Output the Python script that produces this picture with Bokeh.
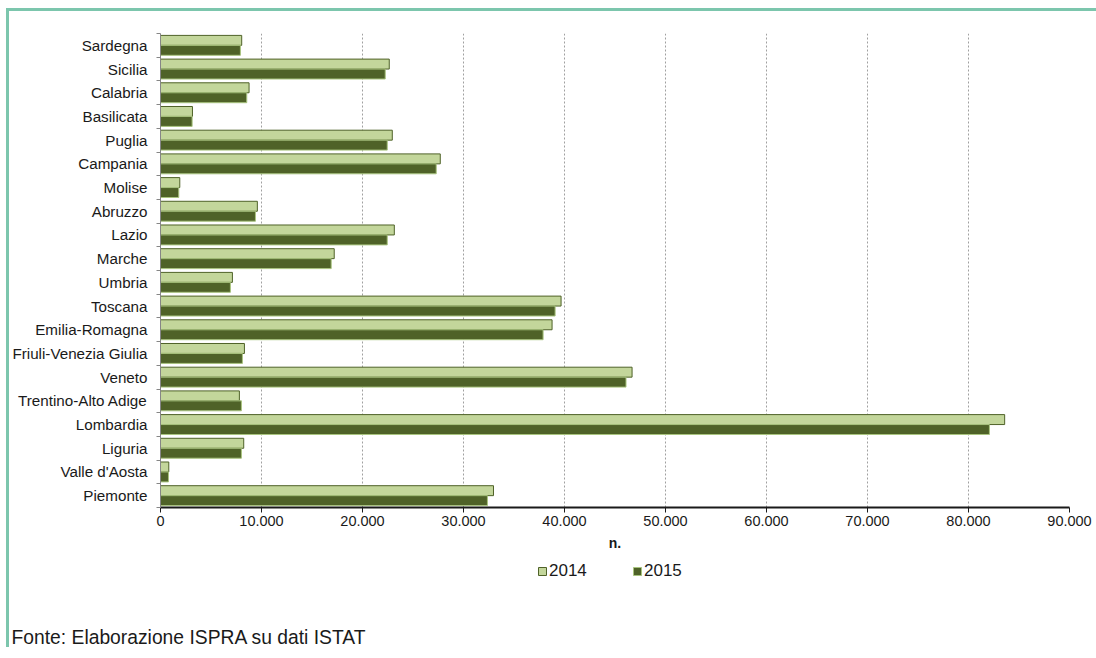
from bokeh.plotting import figure
from bokeh.models import (ColumnDataSource, Range1d, FixedTicker, Legend, LegendItem, Title)
from bokeh.layouts import column
from bokeh.embed import file_html
from bokeh.resources import INLINE

regions = ["Piemonte", "Valle d'Aosta", "Liguria", "Lombardia", "Trentino-Alto Adige",
           "Veneto", "Friuli-Venezia Giulia", "Emilia-Romagna", "Toscana", "Umbria",
           "Marche", "Lazio", "Abruzzo", "Molise", "Campania", "Puglia", "Basilicata",
           "Calabria", "Sicilia", "Sardegna"]
v2014 = [32970, 820, 8240, 83580, 7810, 46690, 8310, 38770, 39660, 7120,
         17200, 23150, 9590, 1910, 27700, 22950, 3165, 8770, 22650, 8040]
v2015 = [32370, 790, 8010, 82070, 8010, 46090, 8110, 37880, 39070, 6920,
         16900, 22450, 9400, 1810, 27300, 22450, 3130, 8540, 22250, 7910]
x_ticks = [0, 10000, 20000, 30000, 40000, 50000, 60000, 70000, 80000, 90000]
x_tick_labels = ["0", "10.000", "20.000", "30.000", "40.000", "50.000",
                 "60.000", "70.000", "80.000", "90.000"]
series_names = ["2014", "2015"]
source_note = "Fonte: Elaborazione ISPRA su dati ISTAT"

FONT = "Liberation Sans"
LIGHT, DARK = "#c3d69b", "#4f6228"
LIGHT_EDGE, DARK_EDGE = "#4f6228", "#a9c47f"

centers = [i + 0.5 for i in range(len(regions))]
src = ColumnDataSource(dict(
    y14=[c + 0.21 for c in centers],
    y15=[c - 0.21 for c in centers],
    v14=v2014, v15=v2015,
))

W = 1087
p = figure(width=W, height=548, output_backend="svg", toolbar_location=None,
           x_range=Range1d(0, 90000), y_range=Range1d(0, len(regions)),
           min_border_left=150, min_border_right=27, min_border_top=22,
           min_border_bottom=52)
p.outline_line_color = None
p.background_fill_color = "white"
p.border_fill_color = "white"

p.hbar(y="y14", left=0, right="v14", height=0.42, source=src,
       fill_color=LIGHT, line_color=LIGHT_EDGE, line_width=1)
p.hbar(y="y15", left=0, right="v15", height=0.42, source=src,
       fill_color=DARK, line_color=DARK_EDGE, line_width=1)

# x axis
p.xaxis.ticker = FixedTicker(ticks=x_ticks)
p.xaxis.major_label_overrides = {t: l for t, l in zip(x_ticks, x_tick_labels)}
p.xaxis.axis_line_color = "#1a1a1a"
p.xaxis.axis_line_width = 2
p.xaxis.major_tick_line_color = "#1a1a1a"
p.xaxis.major_tick_out = 5
p.xaxis.major_tick_in = 0
p.xaxis.minor_tick_line_color = None
p.xaxis.major_label_text_font = FONT
p.xaxis.major_label_text_font_size = "14.5px"
p.xaxis.major_label_text_color = "#1a1a1a"
p.xaxis.major_label_standoff = 3
p.xaxis.axis_label = "n."
p.xaxis.axis_label_text_font = FONT
p.xaxis.axis_label_text_font_size = "14px"
p.xaxis.axis_label_text_font_style = "bold"
p.xaxis.axis_label_text_color = "#1a1a1a"
p.xaxis.axis_label_standoff = 6

# y axis
p.yaxis.ticker = FixedTicker(ticks=centers, minor_ticks=list(range(len(regions) + 1)))
p.yaxis.major_label_overrides = {c: r for c, r in zip(centers, regions)}
p.yaxis.axis_line_color = "#868686"
p.yaxis.major_tick_line_color = None
p.yaxis.major_tick_out = 0
p.yaxis.major_tick_in = 0
p.yaxis.minor_tick_line_color = "#868686"
p.yaxis.minor_tick_out = 4
p.yaxis.minor_tick_in = 0
p.yaxis.major_label_text_font = FONT
p.yaxis.major_label_text_font_size = "15.2px"
p.yaxis.major_label_text_color = "#1a1a1a"
p.yaxis.major_label_standoff = 9

p.xgrid.grid_line_color = "#a0a0a0"
p.xgrid.grid_line_dash = "2 2"
p.xgrid.grid_line_width = 1
p.ygrid.grid_line_color = None

# bottom strip: legend + source note (frame is aligned with the chart above)
H2 = 88
p2 = figure(width=W, height=H2, output_backend="svg", toolbar_location=None,
            x_range=Range1d(0, 90000), y_range=Range1d(0, len(regions)),
            min_border_left=150, min_border_right=27, min_border_top=0,
            min_border_bottom=0, x_axis_type=None, y_axis_type=None)
p2.outline_line_color = None
p2.grid.visible = False
p2.background_fill_color = "white"
p2.border_fill_color = "white"
k14 = p2.hbar(y="y14", left=0, right="v14", height=0.42, source=src, visible=False,
              fill_color=LIGHT, line_color=LIGHT_EDGE, line_width=1)
k15 = p2.hbar(y="y15", left=0, right="v15", height=0.42, source=src, visible=False,
              fill_color=DARK, line_color=DARK_EDGE, line_width=1)
legend = Legend(items=[LegendItem(label=series_names[0], renderers=[k14]),
                       LegendItem(label=series_names[1], renderers=[k15])],
                orientation="horizontal", location=(377, 43),
                glyph_width=10, glyph_height=10, label_standoff=2, spacing=45,
                label_width=38, label_height=20, padding=0, margin=0,
                border_line_color=None, background_fill_alpha=0,
                inactive_fill_alpha=0,
                label_text_font=FONT, label_text_font_size="17px",
                label_text_color="#1a1a1a")
p2.add_layout(legend, "center")
p2.add_layout(Title(text=source_note, align="left", offset=-149, standoff=0,
                    text_font=FONT, text_font_size="19.3px",
                    text_font_style="normal", text_color="#1a1a1a"), "below")

page = column(p, p2, spacing=0,
              styles={"border-top": "3px solid #7cc6ad", "border-left": "3px solid #7cc6ad",
                      "margin-left": "6px", "margin-top": "8px"})

open("out.html", "w").write(file_html(page, INLINE))
